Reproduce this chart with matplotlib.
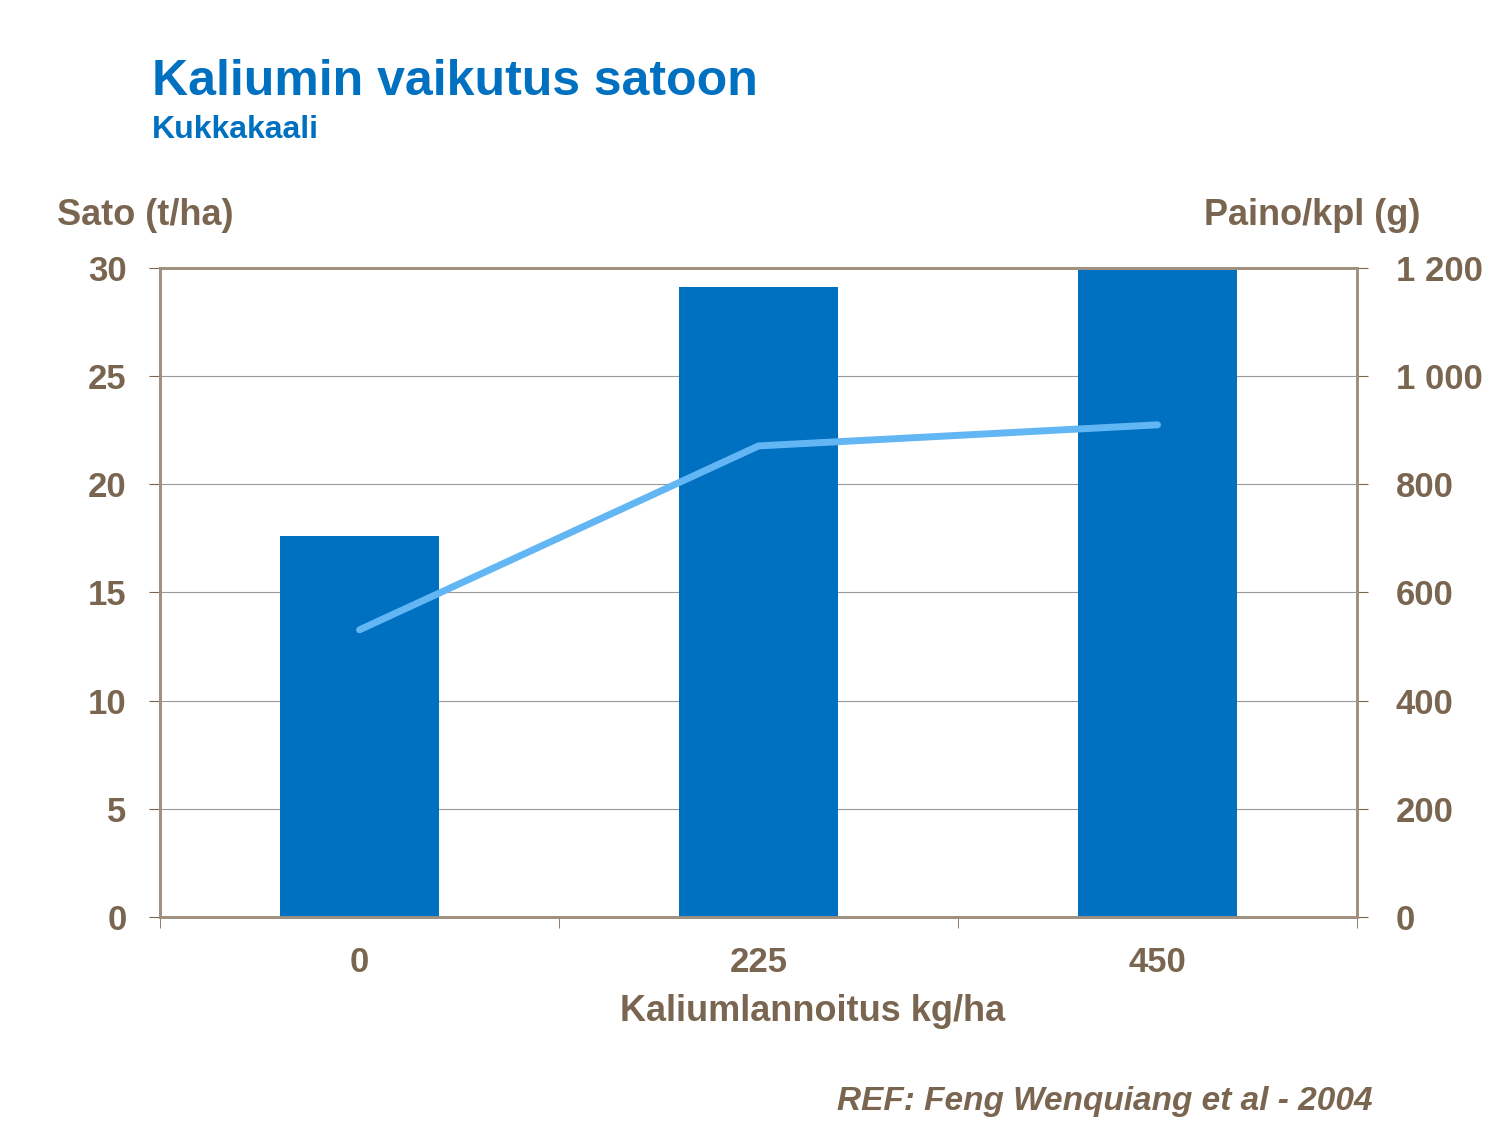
import matplotlib
matplotlib.use("Agg")
import matplotlib.pyplot as plt
import numpy as np

categories = ["0", "225", "450"]
yield_t = [17.6, 29.1, 29.9]
weight_g = [531, 871, 910]
left_ticks = [0, 5, 10, 15, 20, 25, 30]
right_ticks = [0, 200, 400, 600, 800, 1000, 1200]
right_labels = ["0", "200", "400", "600", "800", "1 000", "1 200"]

brown = "#7A6650"
blue = "#0070C0"
light = "#63B6F4"

plt.rcParams['font.family'] = ['Liberation Sans', 'DejaVu Sans']
fig = plt.figure(figsize=(15, 11.25), dpi=100)
ax = fig.add_axes([0.1067, 0.1849, 0.798, 0.5769])
x = np.arange(len(categories))
ax.bar(x, yield_t, width=0.4, color=blue, zorder=3)
ax.set_xlim(-0.5, 2.5)
ax.set_ylim(0, 30)
ax.set_yticks(left_ticks)
ax.set_yticklabels([str(t) for t in left_ticks])
ax.yaxis.grid(True, color="#999999", linewidth=0.8, zorder=0)
ax.set_xticks(x)
ax.set_xticklabels(categories)
ax.set_xticks([-0.5, 0.5, 1.5, 2.5], minor=True)
ax.tick_params(axis='x', which='major', length=0, pad=21)
ax.tick_params(axis='x', which='minor', length=8, color=brown, direction='out')
ax.tick_params(axis='y', length=8, color=brown, labelsize=25, pad=16)
ax.tick_params(axis='x', labelsize=25)
for lbl in ax.get_xticklabels() + ax.get_yticklabels():
    lbl.set_color(brown); lbl.set_fontweight('bold')
for s in ax.spines.values():
    s.set_color("#A09080"); s.set_linewidth(2)

ax2 = ax.twinx()
ax2.plot(x, weight_g, color=light, linewidth=5, solid_capstyle='round', zorder=4)
ax2.set_ylim(0, 1200)
ax2.set_yticks(right_ticks)
ax2.set_yticklabels(right_labels)
ax2.tick_params(axis='y', length=8, color=brown, labelsize=25, pad=20)
for lbl in ax2.get_yticklabels():
    lbl.set_color(brown); lbl.set_fontweight('bold')
for s in ax2.spines.values():
    s.set_color("#A09080"); s.set_linewidth(2)

fig.text(0.101, 0.927, "Kaliumin vaikutus satoon", color=blue, fontsize=36, fontweight='bold', va='center')
fig.text(0.101, 0.884, "Kukkakaali", color=blue, fontsize=23, fontweight='bold', va='center')
fig.text(0.038, 0.808, "Sato (t/ha)", color=brown, fontsize=26, fontweight='bold', va='center')
fig.text(0.947, 0.808, "Paino/kpl (g)", color=brown, fontsize=26, fontweight='bold', va='center', ha='right')
fig.text(0.542, 0.101, "Kaliumlannoitus kg/ha", color=brown, fontsize=26, fontweight='bold', va='center', ha='center')
fig.text(0.915, 0.021, "REF: Feng Wenquiang et al - 2004", color=brown, fontsize=24,
         fontweight='bold', fontstyle='italic', ha='right', va='center')
fig.savefig("out.png", dpi=100)
